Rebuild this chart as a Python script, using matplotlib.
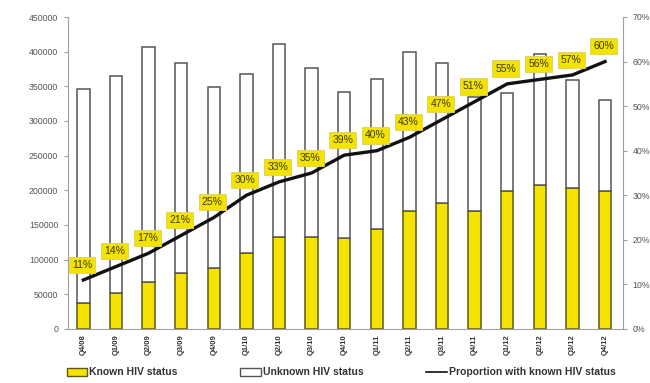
import matplotlib
matplotlib.use("Agg")
import matplotlib.pyplot as plt
import numpy as np
from matplotlib.patches import Patch
from matplotlib.lines import Line2D

quarters = ["Q4/08", "Q1/09", "Q2/09", "Q3/09", "Q4/09", "Q1/10", "Q2/10", "Q3/10", "Q4/10",
            "Q1/11", "Q2/11", "Q3/11", "Q4/11", "Q1/12", "Q2/12", "Q3/12", "Q4/12"]
total_tested = [346000, 365000, 407000, 384000, 349000, 368000, 411000, 377000, 342000,
                361000, 399000, 384000, 335000, 340000, 396000, 359000, 330000]
known_status = [37000, 51500, 68300, 80300, 88500, 110100, 133200, 133200, 130800,
                143800, 170600, 182200, 170600, 199000, 207700, 202900, 199000]
proportion_pct = [11, 14, 17, 21, 25, 30, 33, 35, 39, 40, 43, 47, 51, 55, 56, 57, 60]
unknown_status = [t - k for t, k in zip(total_tested, known_status)]

plt.rcParams['font.family'] = ['Liberation Sans', 'DejaVu Sans']

fig = plt.figure(figsize=(6.5, 3.83), dpi=100)
ax = fig.add_axes([68/650, 1-329/383, (623-68)/650, (329-17)/383])

x = np.arange(len(quarters))
yellow = '#f4e200'
w = 0.38
ax.bar(x, known_status, width=w, color=yellow, edgecolor='#5e5818', linewidth=1.1, zorder=2)
ax.bar(x, unknown_status, bottom=known_status, width=w, color='white',
       edgecolor='#555555', linewidth=1.1, zorder=2)

ax.set_xlim(-0.47, len(quarters) - 0.45)
ax.set_ylim(0, 450000)
ax.set_yticks(np.arange(0, 450001, 50000))
ax.set_yticklabels([str(v) for v in range(0, 450001, 50000)])
ax.set_xticks(x)
ax.set_xticklabels(quarters, rotation=90, fontsize=5.5, fontweight='bold', color='#333333')

gray = '#a0a0a0'
for s in ['top', 'right']:
    ax.spines[s].set_visible(False)
ax.spines['left'].set_color(gray)
ax.spines['bottom'].set_color(gray)
ax.tick_params(axis='y', labelsize=6.3, colors='#555555', length=3, color=gray, pad=4)
ax.tick_params(axis='x', length=0, pad=4)

ax2 = ax.twinx()
ax2.set_ylim(0, 70)
ax2.set_yticks(np.arange(0, 71, 10))
ax2.set_yticklabels([f"{v}%" for v in range(0, 71, 10)])
for s in ['top', 'left', 'bottom']:
    ax2.spines[s].set_visible(False)
ax2.spines['right'].set_color(gray)
ax2.tick_params(axis='y', labelsize=6.3, colors='#555555', length=3, color=gray, pad=4)

ax2.plot(x, proportion_pct, color='#111111', linewidth=2.4, zorder=5)
for xi, p in zip(x, proportion_pct):
    ax2.annotate(f"{p}%", (xi, p), xytext=(-1, 11), textcoords='offset points',
                 ha='center', va='center', fontsize=7.5, color='#3a3a00',
                 bbox=dict(boxstyle='square,pad=0.3', facecolor=yellow, edgecolor='#d8d060', linewidth=0.6),
                 zorder=6)

handles = [Patch(facecolor=yellow, edgecolor='#5e5818', linewidth=1.0),
           Patch(facecolor='white', edgecolor='#555555', linewidth=1.0),
           Line2D([0], [0], color='#111111', linewidth=1.2)]
labels = ["Known HIV status", "Unknown HIV status", "Proportion with known HIV status"]
fig.legend(handles, labels, loc='lower center', bbox_to_anchor=(0.525, -0.01), ncol=3,
           frameon=False, columnspacing=6.0, handlelength=2.0, handleheight=0.8,
           handletextpad=0.2, prop={'weight': 'bold', 'size': 7.5})
for t in fig.legends[0].get_texts():
    t.set_color('#333333')

fig.savefig('out.png', dpi=100)
